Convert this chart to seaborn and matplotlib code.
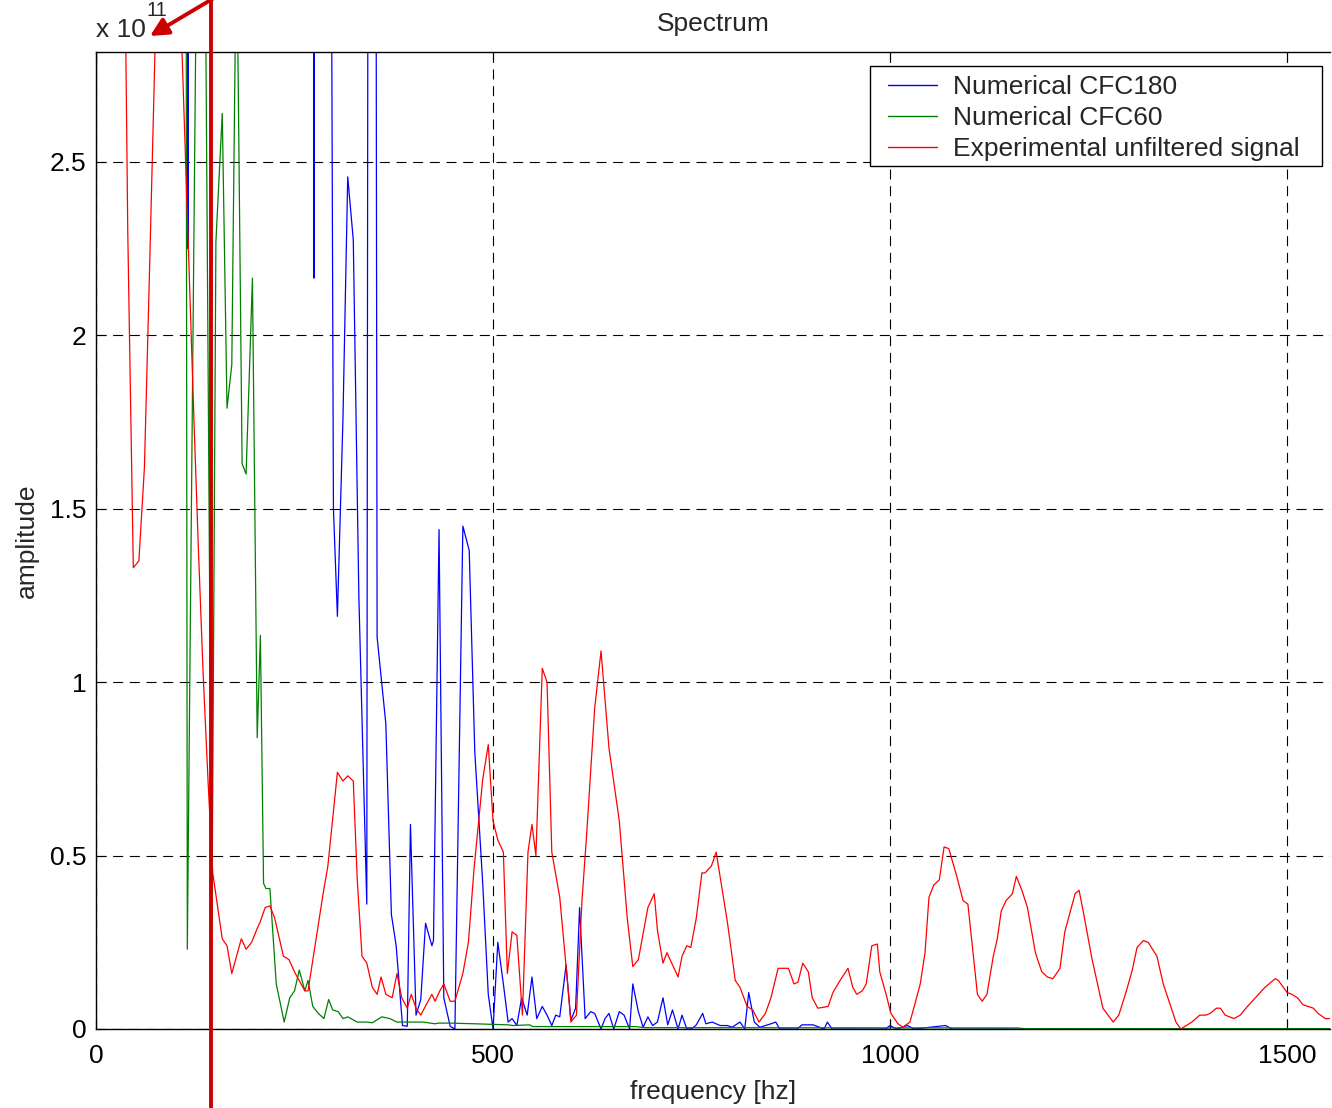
import numpy as np
import pandas as pd
import matplotlib
matplotlib.use("Agg")
import matplotlib.pyplot as plt
from matplotlib.lines import Line2D
from matplotlib.patches import Rectangle
from matplotlib.ticker import FuncFormatter
import seaborn as sns

# ---- spectrum data (amplitude in units of 1e11) ----
cfc180_freq = [0, 6, 100, 108, 116, 122, 260, 268, 274.5, 281,
               292, 299, 304, 311, 317, 324, 331, 341, 347, 354,
               365, 372, 378, 386, 392, 396, 403, 409, 415, 423,
               425, 432, 438, 446, 452, 462, 470, 477, 487, 494,
               500, 506, 513, 519, 524, 530, 536, 543, 549, 555,
               562, 568, 574, 579, 584, 592, 598, 604, 609, 616,
               623, 628, 636, 641, 646, 652, 659, 665, 672, 676,
               683, 689, 695, 701, 707, 714, 720, 726, 733, 738,
               744, 750, 756, 764, 768, 776, 786, 795, 801, 811,
               817, 822, 829, 836, 850, 856, 861, 883, 889, 903,
               917, 921, 927, 994, 1000, 1008, 1022, 1030, 1070, 1078,
               1570]
cfc180_amp = [0.39, 25, 20, 20, 2.25, 20, 20, 20, 2.165, 20,
              6.0, 1.50, 1.19, 1.76, 2.457, 2.275, 1.25, 0.36, 12, 1.13,
              0.88, 0.33, 0.24, 0.01, 0.008, 0.59, 0.04, 0.085, 0.305, 0.24,
              0.255, 1.44, 0.09, 0.008, 0.0, 1.45, 1.38, 0.80, 0.42, 0.10,
              0.0, 0.25, 0.13, 0.02, 0.03, 0.01, 0.09, 0.04, 0.15, 0.03,
              0.065, 0.04, 0.01, 0.04, 0.035, 0.185, 0.025, 0.06, 0.35, 0.03,
              0.05, 0.045, 0.0, 0.03, 0.045, 0.0, 0.05, 0.04, 0.0, 0.13,
              0.05, 0.005, 0.035, 0.01, 0.02, 0.09, 0.012, 0.055, 0.0, 0.04,
              0.0, 0.0, 0.012, 0.045, 0.015, 0.02, 0.01, 0.01, 0.005, 0.02,
              0.0, 0.105, 0.02, 0.005, 0.015, 0.02, 0.0, 0.0, 0.012, 0.012,
              0.0, 0.02, 0.0, 0.0, 0.01, 0.0, 0.01, 0.0, 0.01, 0.0,
              0.0]

cfc60_freq = [0, 6, 60, 108, 115, 127, 134, 146, 151, 159,
              165, 171, 177, 184, 189, 197, 203, 207, 211, 214,
              219, 227, 237, 244, 250, 256, 263, 267, 273, 280,
              287, 293, 298, 305, 311, 317, 329, 341, 348, 360,
              370, 379, 412, 427, 431, 446, 477, 519, 525, 546,
              550, 680, 690, 1160, 1170, 1570]
cfc60_amp = [0.035, 30, 20, 14, 0.23, 3.2, 4.3, 0.3, 2.27, 2.64,
             1.79, 1.915, 3.2, 1.63, 1.60, 2.165, 0.84, 1.135, 0.42, 0.405,
             0.405, 0.13, 0.02, 0.09, 0.11, 0.17, 0.11, 0.14, 0.065, 0.045,
             0.03, 0.085, 0.055, 0.05, 0.03, 0.035, 0.02, 0.02, 0.018, 0.035,
             0.03, 0.02, 0.02, 0.015, 0.017, 0.017, 0.015, 0.012, 0.010, 0.012,
             0.007, 0.007, 0.004, 0.003, 0.001, 0.001]

exp_freq = [0, 20, 34, 40, 47, 54, 61, 67, 73, 79,
            86, 92, 98, 104, 111, 117, 123, 129, 135, 141,
            147, 159, 165, 171, 183, 189, 196, 203, 207, 213,
            219, 225, 236, 243, 251, 263, 267, 286, 292, 304,
            311, 317, 324, 329, 335, 341, 348, 354, 359, 365,
            373, 379, 385, 392, 397, 403, 409, 417, 423, 427,
            433, 438, 446, 452, 462, 469, 476, 487, 494, 500,
            506, 513, 518, 524, 530, 537, 544, 549, 554, 562,
            568, 574, 584, 592, 598, 605, 612, 618, 628, 636,
            646, 659, 669, 676, 683, 695, 703, 707, 714, 719,
            733, 738, 744, 749, 756, 763, 767, 775, 781, 795,
            801, 805, 811, 820, 827, 835, 843, 850, 859, 872,
            879, 884, 890, 897, 902, 909, 922, 928, 937, 947,
            953, 958, 965, 970, 977, 984, 987, 995, 1001, 1010,
            1016, 1025, 1031, 1038, 1044, 1049, 1055, 1062, 1068, 1074,
            1084, 1092, 1098, 1110, 1116, 1122, 1130, 1135, 1140, 1146,
            1154, 1159, 1166, 1173, 1183, 1191, 1198, 1205, 1214, 1220,
            1233, 1238, 1244, 1254, 1268, 1281, 1288, 1297, 1305, 1311,
            1319, 1325, 1336, 1344, 1355, 1360, 1366, 1380, 1390, 1398,
            1403, 1411, 1416, 1422, 1433, 1441, 1450, 1460, 1472, 1485,
            1489, 1500, 1506, 1513, 1520, 1533, 1539, 1548, 1557, 1565]
exp_amp = [7.0, 5.2, 3.6, 2.3, 1.33, 1.35, 1.62, 2.15, 2.7, 3.3,
           3.7, 3.8, 3.6, 3.12, 2.63, 2.2, 1.78, 1.38, 1.02, 0.72,
           0.45, 0.26, 0.24, 0.16, 0.26, 0.23, 0.25, 0.29, 0.31, 0.35,
           0.355, 0.32, 0.21, 0.20, 0.16, 0.11, 0.11, 0.39, 0.47, 0.74,
           0.715, 0.73, 0.715, 0.43, 0.21, 0.19, 0.12, 0.10, 0.15, 0.10,
           0.09, 0.16, 0.09, 0.06, 0.10, 0.06, 0.04, 0.075, 0.10, 0.08,
           0.11, 0.13, 0.08, 0.08, 0.16, 0.25, 0.46, 0.72, 0.82, 0.60,
           0.545, 0.51, 0.16, 0.28, 0.27, 0.04, 0.51, 0.59, 0.50, 1.04,
           1.00, 0.51, 0.38, 0.18, 0.02, 0.04, 0.37, 0.565, 0.925, 1.09,
           0.81, 0.60, 0.32, 0.18, 0.20, 0.35, 0.39, 0.285, 0.19, 0.22,
           0.15, 0.21, 0.24, 0.235, 0.32, 0.45, 0.45, 0.47, 0.51, 0.31,
           0.21, 0.14, 0.12, 0.065, 0.055, 0.02, 0.045, 0.09, 0.175, 0.175,
           0.13, 0.135, 0.19, 0.165, 0.09, 0.06, 0.065, 0.105, 0.14, 0.175,
           0.12, 0.10, 0.11, 0.13, 0.24, 0.245, 0.165, 0.10, 0.045, 0.015,
           0.005, 0.02, 0.07, 0.13, 0.22, 0.38, 0.415, 0.43, 0.525, 0.52,
           0.44, 0.37, 0.36, 0.10, 0.08, 0.10, 0.21, 0.26, 0.34, 0.37,
           0.39, 0.44, 0.40, 0.35, 0.22, 0.165, 0.15, 0.145, 0.175, 0.28,
           0.39, 0.40, 0.33, 0.205, 0.06, 0.02, 0.04, 0.105, 0.17, 0.235,
           0.255, 0.25, 0.21, 0.13, 0.055, 0.02, 0.0, 0.02, 0.04, 0.04,
           0.045, 0.06, 0.06, 0.04, 0.03, 0.04, 0.065, 0.09, 0.12, 0.145,
           0.14, 0.105, 0.10, 0.09, 0.07, 0.06, 0.045, 0.03, 0.03, 0.03]

series_names = ["Numerical CFC180", "Numerical CFC60", "Experimental unfiltered signal"]
series_colors = ["#0000ff", "#008000", "#ff0000"]

x_ticks = [0, 500, 1000, 1500]
y_ticks = [0, 0.5, 1, 1.5, 2, 2.5]

frames = []
for name, f, a in zip(series_names,
                      [cfc180_freq, cfc60_freq, exp_freq],
                      [cfc180_amp, cfc60_amp, exp_amp]):
    frames.append(pd.DataFrame({"frequency": f, "amplitude": a, "series": name}))
df = pd.concat(frames, ignore_index=True)

# ---- styling ----
sns.set_style("ticks")
plt.rcParams["font.family"] = ["Liberation Sans", "DejaVu Sans"]
plt.rcParams["font.size"] = 19

W, H = 1332, 1108
fig = plt.figure(figsize=(W / 100, H / 100), dpi=100)
ax = fig.add_axes([96 / W, 1 - 1029 / H, (1330 - 96) / W, (1029 - 52) / H])

sns.lineplot(data=df, x="frequency", y="amplitude", hue="series",
             hue_order=series_names, palette=series_colors,
             estimator=None, sort=False, linewidth=0.9, ax=ax)

ax.set_xlim(0, 1554)
ax.set_ylim(0, 2.817)
ax.set_xticks(x_ticks)
ax.set_yticks(y_ticks)
ax.yaxis.set_major_formatter(FuncFormatter(lambda v, p: f"{v:g}"))

ax.grid(True, color="black", linestyle=(0, (9, 6)), linewidth=0.8)
ax.set_axisbelow(True)

for side in ["left", "bottom", "top"]:
    ax.spines[side].set_color("black")
    ax.spines[side].set_linewidth(1.0)
ax.spines["right"].set_visible(False)

ax.tick_params(axis="both", direction="in", length=7, width=0.8,
               colors="black", labelsize=19, top=True, right=False)
ax.tick_params(axis="x", pad=11)
ax.tick_params(axis="y", pad=7)

ax.set_xlabel("frequency [hz]", fontsize=19, labelpad=8.3)
ax.set_ylabel("amplitude", fontsize=19, labelpad=8)
ax.set_title("Spectrum", fontsize=19, pad=15.3)

# legend: square frame plus entries
legend_box = Rectangle((870 / W, 1 - 166 / H), 452 / W, 100 / H,
                       transform=fig.transFigure, facecolor="white",
                       edgecolor="black", linewidth=1.0, zorder=4.9,
                       clip_on=False)
ax.add_artist(legend_box)

handles, labels = ax.get_legend_handles_labels()
leg = ax.legend(handles, labels, loc="upper left",
                bbox_to_anchor=(883 / W, 1 - 70 / H),
                bbox_transform=fig.transFigure, borderaxespad=0,
                frameon=False, fontsize=19, handlelength=1.86,
                handletextpad=0.6, labelspacing=0.26, borderpad=0.2)
for ln in leg.get_lines():
    ln.set_linewidth(1.0)

# exponent label of the amplitude axis
fig.text(96 / W, 1 - 30 / H, "x 10", fontsize=19, ha="left", va="center")
fig.text(146 / W, 1 - 11 / H, "11", fontsize=14.5, ha="left", va="center")

# red marker line and arrow pointing at the exponent
fig.add_artist(Line2D([210.5 / W, 210.5 / W], [0, 1], transform=fig.transFigure,
                      color="#cc0000", linewidth=2.8))
ax.annotate("", xy=(150 / W, 1 - 36 / H), xycoords="figure fraction",
            xytext=(214 / W, 1 + 2 / H), textcoords="figure fraction",
            arrowprops=dict(arrowstyle="-|>", color="#cc0000", lw=2.8,
                            mutation_scale=27, shrinkA=0, shrinkB=0),
            annotation_clip=False)

fig.savefig("out.png", dpi=100)
